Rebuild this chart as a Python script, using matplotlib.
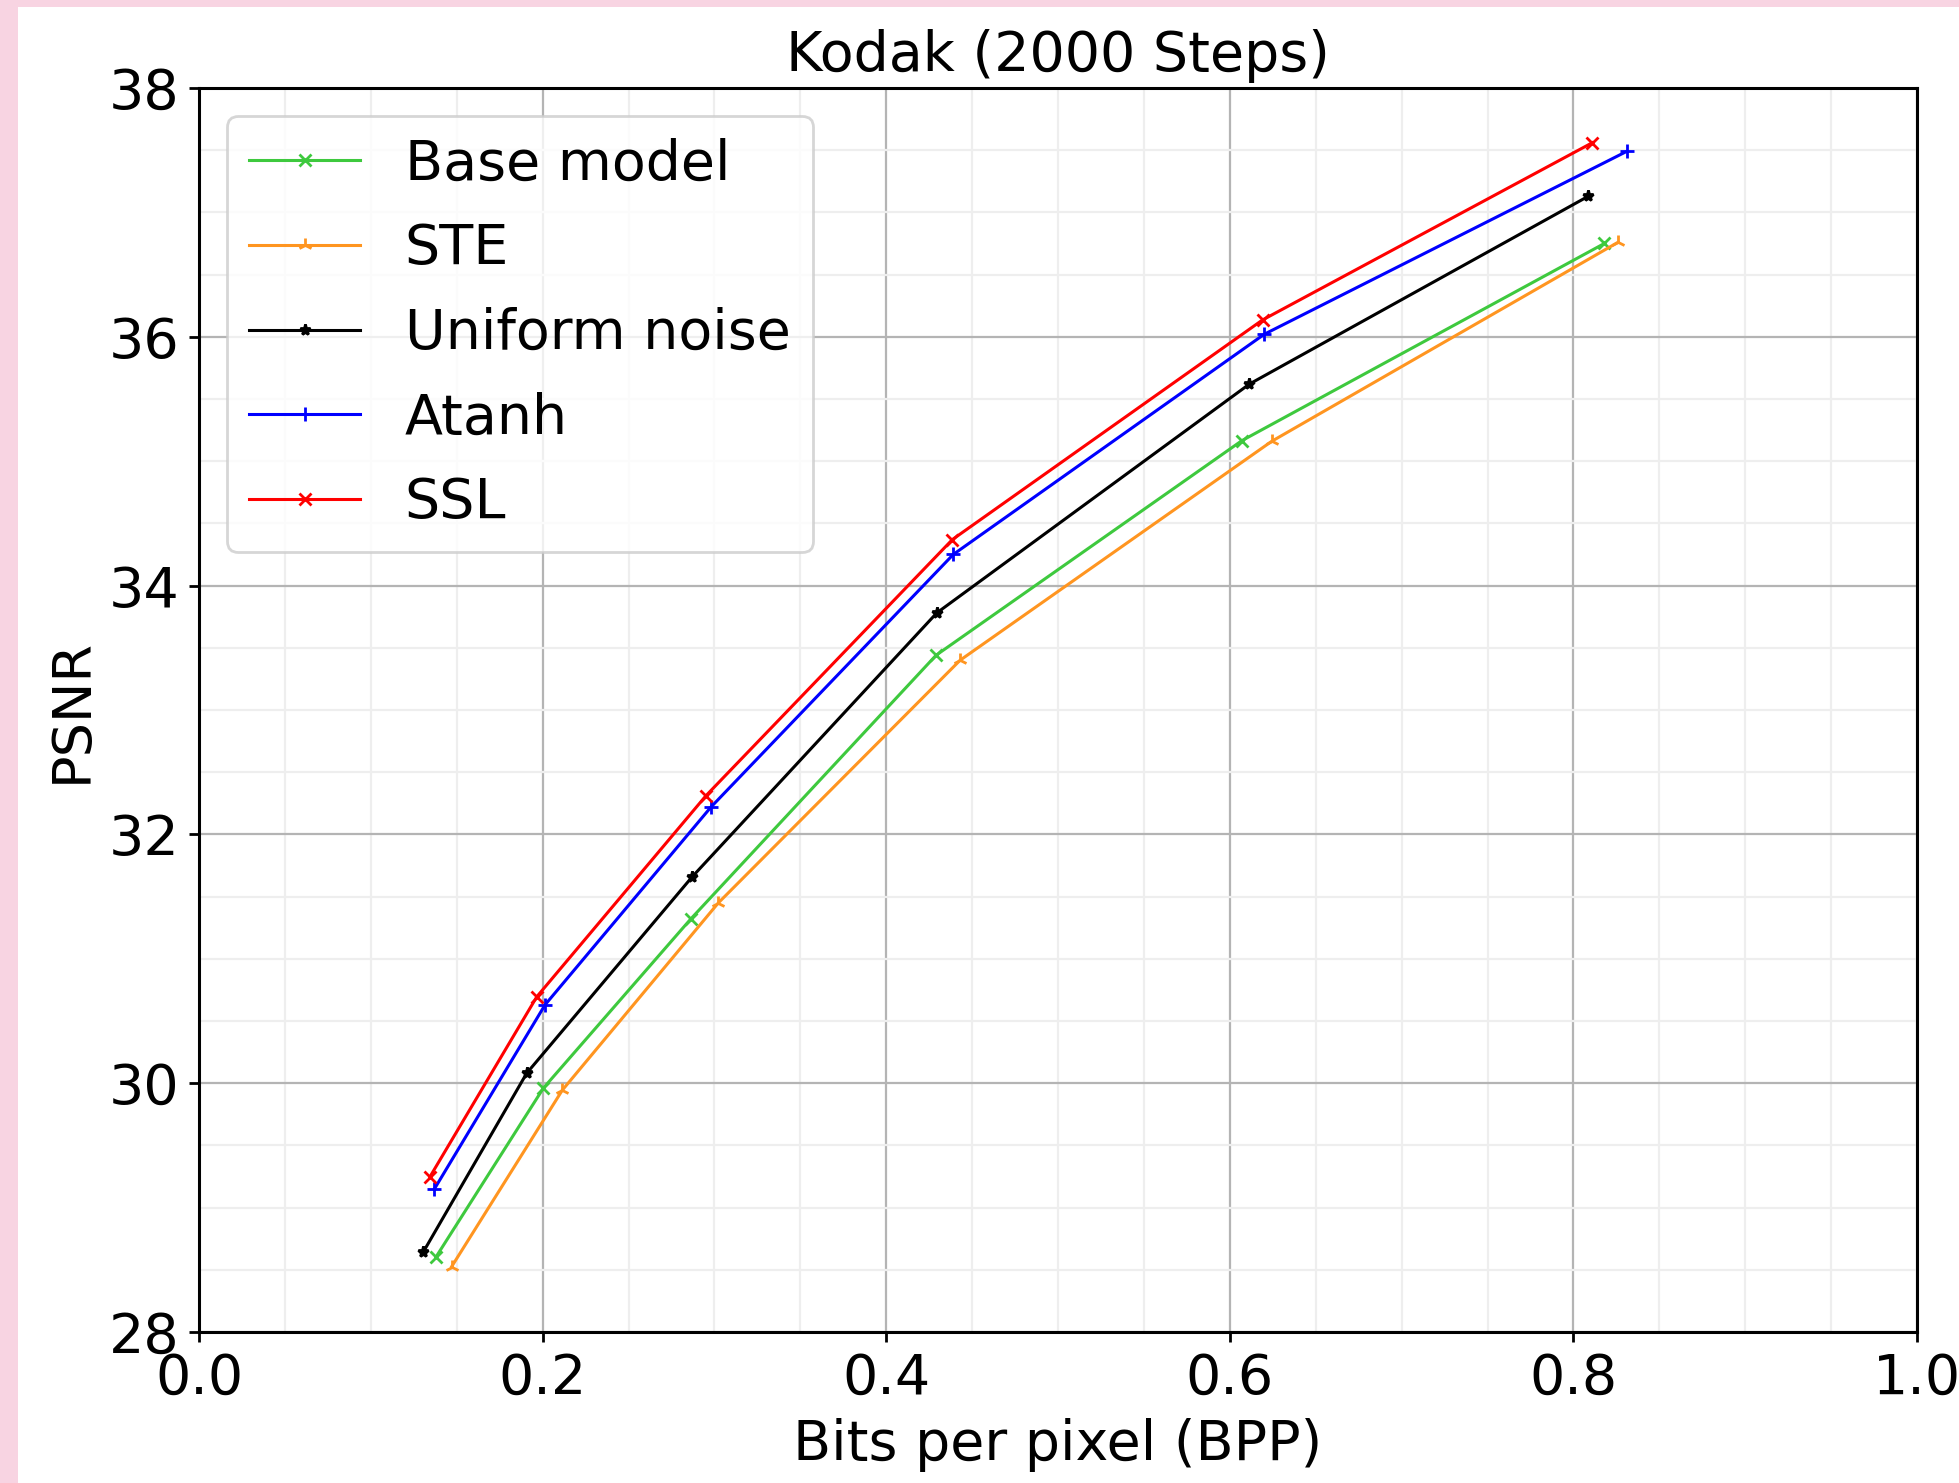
import numpy as np
import matplotlib
matplotlib.use("Agg")
import matplotlib.pyplot as plt
from matplotlib.patches import Rectangle
from matplotlib.ticker import MultipleLocator

# bpp / psnr
base_bpp = [0.138, 0.2004, 0.2862, 0.429, 0.607, 0.818]
base_psnr = [28.605, 29.96, 31.32, 33.44, 35.165, 36.75]
ste_bpp = [0.147, 0.2115, 0.3023, 0.443, 0.6244, 0.826]
ste_psnr = [28.525, 29.945, 31.45, 33.40, 35.16, 36.76]
uni_bpp = [0.1306, 0.1907, 0.2871, 0.4294, 0.6114, 0.8087]
uni_psnr = [28.645, 30.08, 31.66, 33.78, 35.62, 37.13]
atanh_bpp = [0.137, 0.2014, 0.298, 0.439, 0.620, 0.831]
atanh_psnr = [29.15, 30.63, 32.22, 34.25, 36.02, 37.49]
ssl_bpp = [0.1345, 0.1966, 0.295, 0.4385, 0.619, 0.811]
ssl_psnr = [29.25, 30.695, 32.31, 34.37, 36.135, 37.56]

fig = plt.figure(figsize=(9.795, 7.415), dpi=200, facecolor='#f8d4e2')
# white page on top of the pink screenshot border
fig.patches.append(Rectangle((18 / 1959, 0), 1, 1 - 7 / 1483, transform=fig.transFigure,
                             facecolor='white', edgecolor='none', zorder=-5))
ax = fig.add_axes([0.1016, 0.1018, 0.9786 - 0.1016, 0.9407 - 0.1018])

lw, ms = 1.1, 4
ax.plot(base_bpp, base_psnr, color='#3ec93e', marker='x', lw=lw, ms=ms, label='Base model')
ax.plot(ste_bpp, ste_psnr, color='#ff9520', marker='2', lw=lw, ms=ms + 1, label='STE')
ax.plot(uni_bpp, uni_psnr, color='black', marker='*', lw=lw, ms=ms, label='Uniform noise')
ax.plot(atanh_bpp, atanh_psnr, color='blue', marker='+', lw=lw, ms=ms + 1, label='Atanh')
ax.plot(ssl_bpp, ssl_psnr, color='red', marker='x', lw=lw, ms=ms, label='SSL')

ax.set_xlim(0, 1.0)
ax.set_ylim(28, 38)
ax.xaxis.set_major_locator(MultipleLocator(0.2))
ax.xaxis.set_minor_locator(MultipleLocator(0.05))
ax.yaxis.set_major_locator(MultipleLocator(2))
ax.yaxis.set_minor_locator(MultipleLocator(0.5))
ax.grid(which='major', color='#b4b4b4', lw=0.8)
ax.grid(which='minor', color='#eeeeee', lw=0.8)
ax.tick_params(which='minor', length=0)
ax.tick_params(which='major', labelsize=20, width=1.0, length=3.5)
for s in ax.spines.values():
    s.set_linewidth(1.1)

ax.set_title('Kodak (2000 Steps)', fontsize=20, pad=6)
ax.set_xlabel('Bits per pixel (BPP)', fontsize=20, labelpad=4.5)
ax.set_ylabel('PSNR', fontsize=19.5)
ax.legend(loc='upper left', fontsize=20, handlelength=2.0, labelspacing=0.55)

fig.savefig('out.png', dpi=200, facecolor=fig.get_facecolor())
